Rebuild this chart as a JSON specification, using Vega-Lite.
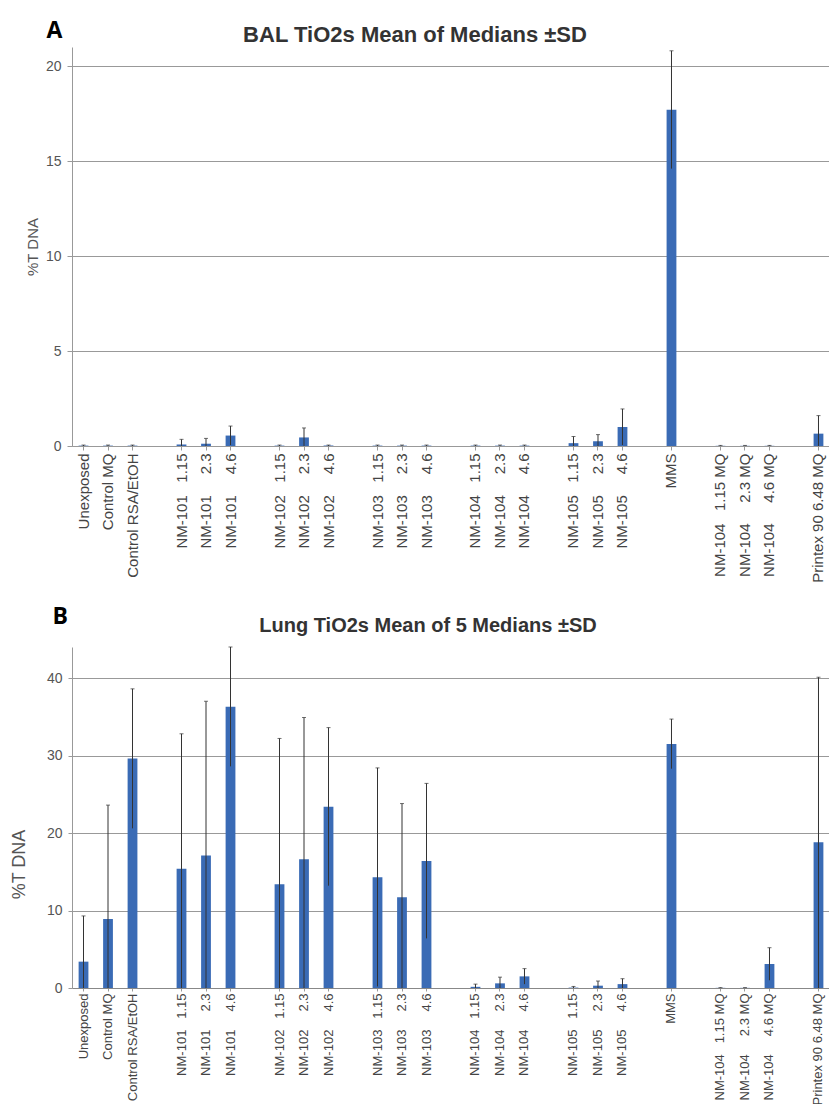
{
  "$schema": "https://vega.github.io/schema/vega-lite/v6.json",
  "padding": {"left": 10, "top": 20, "right": 0, "bottom": 0},
  "background": "white",
  "config": {
    "view": {"stroke": null},
    "concat": {"spacing": 22},
    "axis": {"labelFont": "Liberation Sans", "titleFont": "Liberation Sans"}
  },
  "datasets": {
    "bal": [
      {"label": "Unexposed", "mean": 0.02, "lo": 0, "hi": 0.05},
      {"label": "Control MQ", "mean": 0.02, "lo": 0, "hi": 0.05},
      {"label": "Control RSA/EtOH", "mean": 0.02, "lo": 0, "hi": 0.05},
      {"label": "NM-101\u00a0\u00a0\u00a01.15", "mean": 0.08, "lo": 0, "hi": 0.35},
      {"label": "NM-101\u00a0\u00a0\u00a0\u00a0\u00a02.3", "mean": 0.12, "lo": 0, "hi": 0.4},
      {"label": "NM-101\u00a0\u00a0\u00a0\u00a0\u00a04.6", "mean": 0.55, "lo": 0.05, "hi": 1.05},
      {"label": "NM-102\u00a0\u00a0\u00a01.15", "mean": 0.02, "lo": 0, "hi": 0.05},
      {"label": "NM-102\u00a0\u00a0\u00a0\u00a0\u00a02.3", "mean": 0.45, "lo": 0, "hi": 0.95},
      {"label": "NM-102\u00a0\u00a0\u00a0\u00a0\u00a04.6", "mean": 0.02, "lo": 0, "hi": 0.05},
      {"label": "NM-103\u00a0\u00a0\u00a01.15", "mean": 0.02, "lo": 0, "hi": 0.05},
      {"label": "NM-103\u00a0\u00a0\u00a0\u00a0\u00a02.3", "mean": 0.02, "lo": 0, "hi": 0.05},
      {"label": "NM-103\u00a0\u00a0\u00a0\u00a0\u00a04.6", "mean": 0.02, "lo": 0, "hi": 0.05},
      {"label": "NM-104\u00a0\u00a0\u00a01.15", "mean": 0.02, "lo": 0, "hi": 0.05},
      {"label": "NM-104\u00a0\u00a0\u00a0\u00a0\u00a02.3", "mean": 0.02, "lo": 0, "hi": 0.05},
      {"label": "NM-104\u00a0\u00a0\u00a0\u00a0\u00a04.6", "mean": 0.02, "lo": 0, "hi": 0.05},
      {"label": "NM-105\u00a0\u00a0\u00a01.15", "mean": 0.15, "lo": 0, "hi": 0.5},
      {"label": "NM-105\u00a0\u00a0\u00a0\u00a0\u00a02.3", "mean": 0.25, "lo": 0, "hi": 0.6},
      {"label": "NM-105\u00a0\u00a0\u00a0\u00a0\u00a04.6", "mean": 1.0, "lo": 0.05, "hi": 1.95},
      {"label": "MMS", "mean": 17.7, "lo": 14.6, "hi": 20.8},
      {"label": "NM-104\u00a0\u00a0\u00a01.15 MQ", "mean": 0.01, "lo": 0, "hi": 0.03},
      {"label": "NM-104\u00a0\u00a0\u00a0\u00a0\u00a02.3 MQ", "mean": 0.01, "lo": 0, "hi": 0.03},
      {"label": "NM-104\u00a0\u00a0\u00a0\u00a0\u00a04.6 MQ", "mean": 0.01, "lo": 0, "hi": 0.03},
      {"label": "Printex 90 6.48 MQ", "mean": 0.65, "lo": 0, "hi": 1.6}
    ],
    "lung": [
      {"label": "Unexposed", "mean": 3.4, "lo": 0, "hi": 9.3},
      {"label": "Control MQ", "mean": 8.9, "lo": 0, "hi": 23.6},
      {"label": "Control RSA/EtOH", "mean": 29.6, "lo": 20.6, "hi": 38.6},
      {"label": "NM-101\u00a0\u00a0\u00a01.15", "mean": 15.4, "lo": 0, "hi": 32.8},
      {"label": "NM-101\u00a0\u00a0\u00a0\u00a0\u00a02.3", "mean": 17.1, "lo": 0, "hi": 37.0},
      {"label": "NM-101\u00a0\u00a0\u00a0\u00a0\u00a04.6", "mean": 36.3, "lo": 28.6, "hi": 44.0},
      {"label": "NM-102\u00a0\u00a0\u00a01.15", "mean": 13.4, "lo": 0, "hi": 32.2},
      {"label": "NM-102\u00a0\u00a0\u00a0\u00a0\u00a02.3", "mean": 16.6, "lo": 0, "hi": 34.9},
      {"label": "NM-102\u00a0\u00a0\u00a0\u00a0\u00a04.6", "mean": 23.4, "lo": 13.2, "hi": 33.6},
      {"label": "NM-103\u00a0\u00a0\u00a01.15", "mean": 14.3, "lo": 0.2, "hi": 28.4},
      {"label": "NM-103\u00a0\u00a0\u00a0\u00a0\u00a02.3", "mean": 11.7, "lo": 0, "hi": 23.8},
      {"label": "NM-103\u00a0\u00a0\u00a0\u00a0\u00a04.6", "mean": 16.4, "lo": 6.4, "hi": 26.4},
      {"label": "NM-104\u00a0\u00a0\u00a01.15", "mean": 0.15, "lo": 0, "hi": 0.5},
      {"label": "NM-104\u00a0\u00a0\u00a0\u00a0\u00a02.3", "mean": 0.6, "lo": 0, "hi": 1.4},
      {"label": "NM-104\u00a0\u00a0\u00a0\u00a0\u00a04.6", "mean": 1.5, "lo": 0.5, "hi": 2.5},
      {"label": "NM-105\u00a0\u00a0\u00a01.15", "mean": 0.05, "lo": 0, "hi": 0.2},
      {"label": "NM-105\u00a0\u00a0\u00a0\u00a0\u00a02.3", "mean": 0.3, "lo": 0, "hi": 0.9},
      {"label": "NM-105\u00a0\u00a0\u00a0\u00a0\u00a04.6", "mean": 0.5, "lo": 0, "hi": 1.2},
      {"label": "MMS", "mean": 31.5, "lo": 28.3, "hi": 34.7},
      {"label": "NM-104\u00a0\u00a0\u00a01.15 MQ", "mean": 0.02, "lo": 0, "hi": 0.05},
      {"label": "NM-104\u00a0\u00a0\u00a0\u00a0\u00a02.3 MQ", "mean": 0.02, "lo": 0, "hi": 0.05},
      {"label": "NM-104\u00a0\u00a0\u00a0\u00a0\u00a04.6 MQ", "mean": 3.1, "lo": 1.0, "hi": 5.2},
      {"label": "Printex 90 6.48 MQ", "mean": 18.8, "lo": 0, "hi": 40.1}
    ]
  },
  "vconcat": [
    {
      "title": {"text": "A", "anchor": "start", "frame": "bounds", "font": "Open Sans", "fontSize": 23, "fontWeight": "bold", "color": "#000000", "offset": -19, "dx": 21},
      "vconcat": [
        {
          "data": {"name": "bal"},
          "width": 758,
          "height": 399,
          "title": {"text": "BAL TiO2s Mean of Medians ±SD", "font": "Liberation Sans", "fontSize": 22, "fontWeight": "bold", "color": "#333333", "anchor": "middle", "frame": "group", "dx": -36, "offset": 0},
          "encoding": {
            "x": {
              "field": "label", "type": "nominal", "sort": null,
              "scale": {
                "domain": ["Unexposed", "Control MQ", "Control RSA/EtOH", "_1", "NM-101\u00a0\u00a0\u00a01.15", "NM-101\u00a0\u00a0\u00a0\u00a0\u00a02.3", "NM-101\u00a0\u00a0\u00a0\u00a0\u00a04.6", "_2", "NM-102\u00a0\u00a0\u00a01.15", "NM-102\u00a0\u00a0\u00a0\u00a0\u00a02.3", "NM-102\u00a0\u00a0\u00a0\u00a0\u00a04.6", "_3", "NM-103\u00a0\u00a0\u00a01.15", "NM-103\u00a0\u00a0\u00a0\u00a0\u00a02.3", "NM-103\u00a0\u00a0\u00a0\u00a0\u00a04.6", "_4", "NM-104\u00a0\u00a0\u00a01.15", "NM-104\u00a0\u00a0\u00a0\u00a0\u00a02.3", "NM-104\u00a0\u00a0\u00a0\u00a0\u00a04.6", "_5", "NM-105\u00a0\u00a0\u00a01.15", "NM-105\u00a0\u00a0\u00a0\u00a0\u00a02.3", "NM-105\u00a0\u00a0\u00a0\u00a0\u00a04.6", "_6", "MMS", "_7", "NM-104\u00a0\u00a0\u00a01.15 MQ", "NM-104\u00a0\u00a0\u00a0\u00a0\u00a02.3 MQ", "NM-104\u00a0\u00a0\u00a0\u00a0\u00a04.6 MQ", "_8", "Printex 90 6.48 MQ"],
                "paddingInner": 0.6, "paddingOuter": 0.27
              },
              "axis": {
                "title": null, "labelAngle": -90, "labelFontSize": 15, "labelColor": "#444444",
                "labelPadding": 3, "tickSize": 4, "tickColor": "#999999", "domainColor": "#999999",
                "labelExpr": "slice(datum.value,0,1)=='_' ? '' : datum.value",
                "tickOpacity": {"condition": {"test": "slice(datum.value,0,1)=='_'", "value": 0}, "value": 1}
              }
            }
          },
          "layer": [
            {
              "mark": {"type": "bar", "color": "#3A6BB5"},
              "encoding": {
                "y": {
                  "field": "mean", "type": "quantitative", "title": "%T DNA",
                  "scale": {"domain": [0, 21], "nice": false},
                  "axis": {
                    "values": [0, 5, 10, 15, 20], "grid": true, "gridColor": "#999999",
                    "domainColor": "#999999", "tickColor": "#999999", "tickSize": 5,
                    "labelFontSize": 14, "labelColor": "#555555", "labelPadding": 6,
                    "titleFontSize": 15, "titleFontWeight": "normal", "titleColor": "#555555", "titlePadding": 5
                  }
                }
              }
            },
            {
              "mark": {"type": "rule", "color": "#333333", "strokeWidth": 1},
              "encoding": {"y": {"field": "lo", "type": "quantitative", "title": "%T DNA"}, "y2": {"field": "hi"}}
            },
            {
              "mark": {"type": "tick", "color": "#333333", "size": 4, "thickness": 1},
              "encoding": {"y": {"field": "hi", "type": "quantitative", "title": "%T DNA"}}
            }
          ]
        }
      ]
    },
    {
      "title": {"text": "B", "anchor": "start", "frame": "bounds", "font": "Open Sans", "fontSize": 23, "fontWeight": "bold", "color": "#000000", "offset": -13, "dx": 42},
      "vconcat": [
        {
          "data": {"name": "lung"},
          "width": 758,
          "height": 341,
          "title": {"text": "Lung TiO2s Mean of 5 Medians ±SD", "font": "Liberation Sans", "fontSize": 20, "fontWeight": "bold", "color": "#333333", "anchor": "middle", "frame": "group", "dx": -23, "offset": 11},
          "encoding": {
            "x": {
              "field": "label", "type": "nominal", "sort": null,
              "scale": {
                "domain": ["Unexposed", "Control MQ", "Control RSA/EtOH", "_1", "NM-101\u00a0\u00a0\u00a01.15", "NM-101\u00a0\u00a0\u00a0\u00a0\u00a02.3", "NM-101\u00a0\u00a0\u00a0\u00a0\u00a04.6", "_2", "NM-102\u00a0\u00a0\u00a01.15", "NM-102\u00a0\u00a0\u00a0\u00a0\u00a02.3", "NM-102\u00a0\u00a0\u00a0\u00a0\u00a04.6", "_3", "NM-103\u00a0\u00a0\u00a01.15", "NM-103\u00a0\u00a0\u00a0\u00a0\u00a02.3", "NM-103\u00a0\u00a0\u00a0\u00a0\u00a04.6", "_4", "NM-104\u00a0\u00a0\u00a01.15", "NM-104\u00a0\u00a0\u00a0\u00a0\u00a02.3", "NM-104\u00a0\u00a0\u00a0\u00a0\u00a04.6", "_5", "NM-105\u00a0\u00a0\u00a01.15", "NM-105\u00a0\u00a0\u00a0\u00a0\u00a02.3", "NM-105\u00a0\u00a0\u00a0\u00a0\u00a04.6", "_6", "MMS", "_7", "NM-104\u00a0\u00a0\u00a01.15 MQ", "NM-104\u00a0\u00a0\u00a0\u00a0\u00a02.3 MQ", "NM-104\u00a0\u00a0\u00a0\u00a0\u00a04.6 MQ", "_8", "Printex 90 6.48 MQ"],
                "paddingInner": 0.6, "paddingOuter": 0.27
              },
              "axis": {
                "title": null, "labelAngle": -90, "labelFontSize": 13, "labelColor": "#444444",
                "labelPadding": 2, "tickSize": 3, "tickColor": "#999999", "domainColor": "#888888",
                "labelExpr": "slice(datum.value,0,1)=='_' ? '' : datum.value",
                "tickOpacity": {"condition": {"test": "slice(datum.value,0,1)=='_'", "value": 0}, "value": 1}
              }
            }
          },
          "layer": [
            {
              "mark": {"type": "bar", "color": "#3A6BB5"},
              "encoding": {
                "y": {
                  "field": "mean", "type": "quantitative", "title": "%T DNA",
                  "scale": {"domain": [0, 44], "nice": false},
                  "axis": {
                    "values": [0, 10, 20, 30, 40], "grid": true, "gridColor": "#999999",
                    "domainColor": "#999999", "tickColor": "#999999", "tickSize": 4,
                    "labelFontSize": 14, "labelColor": "#555555", "labelPadding": 6,
                    "titleFontSize": 18, "titleFontWeight": "normal", "titleColor": "#555555", "titlePadding": 18,
                    "titleY": 217, "titleAlign": "center"
                  }
                }
              }
            },
            {
              "mark": {"type": "rule", "color": "#333333", "strokeWidth": 1},
              "encoding": {"y": {"field": "lo", "type": "quantitative", "title": "%T DNA"}, "y2": {"field": "hi"}}
            },
            {
              "mark": {"type": "tick", "color": "#333333", "size": 4, "thickness": 1},
              "encoding": {"y": {"field": "hi", "type": "quantitative", "title": "%T DNA"}}
            }
          ]
        }
      ]
    }
  ]
}
